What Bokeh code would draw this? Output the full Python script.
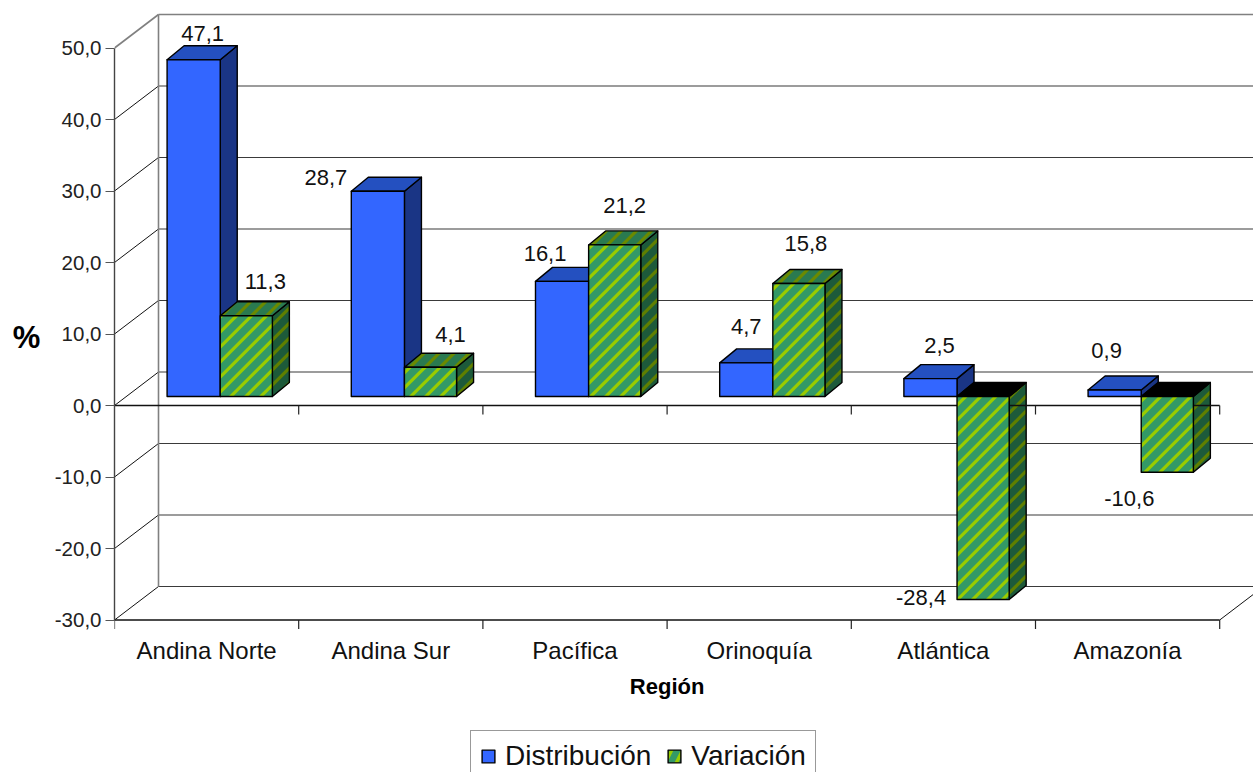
from bokeh.plotting import figure
from bokeh.models import (Range1d, LinearAxis, FixedTicker, Legend, LegendItem, Label)
from bokeh.embed import file_html
from bokeh.resources import INLINE

# ---- chart data ----
regions = ["Andina Norte", "Andina Sur", "Pacífica", "Orinoquía", "Atlántica", "Amazonía"]
distribucion = [47.1, 28.7, 16.1, 4.7, 2.5, 0.9]
variacion = [11.3, 4.1, 21.2, 15.8, -28.4, -10.6]
y_ticks = [-30, -20, -10, 0, 10, 20, 30, 40, 50]
y_tick_labels = ["-30,0", "-20,0", "-10,0", "0,0", "10,0", "20,0", "30,0", "40,0", "50,0"]

# ---- label nudges (screen px, relative to each bar's end) ----
dist_off_x = [9, -52, -17, 0, 9, -8]
dist_off_y = [-26, -14, -28, -36, -33, -40]
vari_off_x = [19, 20, 10, 7, -62, -38]
vari_off_y = [-34, -33, -39, -40, -2, 26]

# ---- scales and projection ----
PX_CAT = 184.2
PX_VAL = 7.15
FRAME_W, FRAME_H = 1139, 772
ZERO_FROM_TOP = 405
WALL_DX, WALL_DY = 44 / PX_CAT, 33.5 / PX_VAL
BAR_DX, BAR_DY = 17 / PX_CAT, 14 / PX_VAL
BASE = 9 / PX_VAL
TICK = 9 / PX_VAL
BLUE_L, BLUE_W = 0.2855, 0.2885
GREEN_L, GREEN_W = 0.574, 0.283
N = len(regions)
GRID_INK = "#3a3a3a"
WALL_INK = "#808080"
X_MAX = FRAME_W / PX_CAT
FLOOR = y_ticks[0]
STRIPE_PERIOD, STRIPE_WIDTH, STRIPE_PHASE = 15.0, 4.5, 0.0

p = figure(width=1253, height=772, output_backend="svg", toolbar_location=None,
           x_range=Range1d(0, X_MAX),
           y_range=Range1d(ZERO_FROM_TOP / PX_VAL - FRAME_H / PX_VAL, ZERO_FROM_TOP / PX_VAL),
           x_axis_location=None, y_axis_location=None,
           min_border_left=114, min_border_right=0, min_border_top=0, min_border_bottom=0)
p.outline_line_color = None
p.grid.visible = False

# ---- walls ----
grid_vals = [v for v in y_ticks if v != 50]
p.segment([WALL_DX] * len(grid_vals), [v + WALL_DY for v in grid_vals],
          [X_MAX + 1] * len(grid_vals), [v + WALL_DY for v in grid_vals],
          line_color=GRID_INK, line_width=1.2)
p.segment([0] * len(grid_vals), grid_vals,
          [WALL_DX] * len(grid_vals), [v + WALL_DY for v in grid_vals],
          line_color="#111111", line_width=1)
p.segment([WALL_DX], [50 + WALL_DY], [X_MAX + 1], [50 + WALL_DY],
          line_color=WALL_INK, line_width=1.6)
p.segment([0], [50], [WALL_DX], [50 + WALL_DY], line_color=WALL_INK, line_width=1.6)
p.segment([WALL_DX], [FLOOR + WALL_DY], [WALL_DX], [50 + WALL_DY],
          line_color=WALL_INK, line_width=1.6)
p.segment([N], [FLOOR], [N + WALL_DX], [FLOOR + WALL_DY], line_color="#111111", line_width=1)


def box(i, left, width, v):
    x0 = i + left
    x1 = x0 + width
    y0 = BASE
    y1 = BASE + v
    ytop = max(y0, y1)
    ybot = min(y0, y1)
    front = ([x0, x1, x1, x0], [ybot, ybot, ytop, ytop])
    side = ([x1, x1 + BAR_DX, x1 + BAR_DX, x1],
            [ybot, ybot + BAR_DY, ytop + BAR_DY, ytop])
    top = ([x0, x0 + BAR_DX, x1 + BAR_DX, x1],
           [ytop, ytop + BAR_DY, ytop + BAR_DY, ytop])
    return front, side, top


def clip_band(poly, lo, hi):
    """Cut a convex face to the diagonal band lo <= u <= hi, u = x_px - y_px."""
    pts = [(x * PX_CAT, y * PX_VAL) for x, y in zip(*poly)]

    def cut(points, keep):
        out = []
        for k, a in enumerate(points):
            b = points[(k + 1) % len(points)]
            da, db = keep(a), keep(b)
            if da >= 0:
                out.append(a)
            if (da >= 0) != (db >= 0):
                t = da / (da - db)
                out.append((a[0] + t * (b[0] - a[0]), a[1] + t * (b[1] - a[1])))
        return out

    pts = cut(pts, lambda q: (q[0] - q[1]) - lo)
    if pts:
        pts = cut(pts, lambda q: hi - (q[0] - q[1]))
    if len(pts) < 3:
        return None
    return [q[0] / PX_CAT for q in pts], [q[1] / PX_VAL for q in pts]


def stripes_of(polys):
    xs, ys = [], []
    for poly in polys:
        us = [x * PX_CAT - y * PX_VAL for x, y in zip(*poly)]
        k = int(min(us) // STRIPE_PERIOD) - 1
        while k * STRIPE_PERIOD + STRIPE_PHASE < max(us):
            lo = k * STRIPE_PERIOD + STRIPE_PHASE
            piece = clip_band(poly, lo, lo + STRIPE_WIDTH)
            if piece:
                xs.append(piece[0])
                ys.append(piece[1])
            k += 1
    return xs, ys


EDGE = dict(line_color="black", line_width=1.4, line_join="round")


def plain(polys, color):
    p.patches([q[0] for q in polys], [q[1] for q in polys], fill_color=color, **EDGE)


def striped(polys, base, ink):
    p.patches([q[0] for q in polys], [q[1] for q in polys], fill_color=base, line_color=None)
    xs, ys = stripes_of(polys)
    p.patches(xs, ys, fill_color=ink, line_color=None)
    p.patches([q[0] for q in polys], [q[1] for q in polys], fill_color=None, **EDGE)


blue = [box(i, BLUE_L, BLUE_W, v) for i, v in enumerate(distribucion)]
green = [box(i, GREEN_L, GREEN_W, v) for i, v in enumerate(variacion)]

plain([b[1] for b in blue], "#1A3585")
plain([b[2] for b in blue], "#2450C0")
striped([g[1] for g in green], "#1D5A3A", "#5F7F00")
striped([g[2] for g, v in zip(green, variacion) if v >= 0], "#2A7A50", "#6A8A00")
plain([g[2] for g, v in zip(green, variacion) if v < 0], "black")

# front lines with ticks: the zero line and the floor line
for level in (0, FLOOR):
    p.segment([0], [level], [N], [level], line_color="#111111", line_width=1.3)
    p.segment(list(range(0 if level else 1, N + 1)), [level] * (N + (1 if level else 0)),
              list(range(0 if level else 1, N + 1)), [level - TICK] * (N + (1 if level else 0)),
              line_color="#222222", line_width=1.2)

# front faces
blue_front = p.quad(left=[b[0][0][0] for b in blue], right=[b[0][0][1] for b in blue],
                    bottom=[b[0][1][0] for b in blue], top=[b[0][1][2] for b in blue],
                    fill_color="#3366FF", **EDGE)
striped([g[0] for g in green], "#339966", "#99CC00")

# swatch for the legend only: sits outside the visible x range
green_key = p.quad(left=[-3], right=[-2], bottom=[0], top=[1], fill_color="#339966",
                   hatch_pattern="right_diagonal_line", hatch_color="#99CC00",
                   hatch_scale=22, hatch_weight=3.4, **EDGE)

# value labels
FONT = {"value": "Liberation Sans"}
LABEL = dict(text_font_size="22px", text_font=FONT, text_color="#111111",
             text_align="center", text_baseline="middle")
p.text(x=[i + BLUE_L + BLUE_W / 2 for i in range(N)],
       y=[BASE + v for v in distribucion],
       text=[f"{v:.1f}".replace(".", ",") for v in distribucion],
       x_offset=dist_off_x, y_offset=dist_off_y, **LABEL)
p.text(x=[i + GREEN_L + GREEN_W / 2 for i in range(N)],
       y=[BASE + v for v in variacion],
       text=[f"{v:.1f}".replace(".", ",") for v in variacion],
       x_offset=vari_off_x, y_offset=vari_off_y, **LABEL)

# category labels and axis title below the floor line
p.text(x=[i + 0.5 for i in range(N)], y=[FLOOR] * N, text=regions, y_offset=[30] * N,
       text_font_size="24px", text_font=FONT, text_color="#111111",
       text_align="center", text_baseline="middle")
p.text(x=[N / 2], y=[FLOOR], text=["Región"], y_offset=[66], text_font_size="22px",
       text_font_style="bold", text_font=FONT, text_color="black",
       text_align="center", text_baseline="middle")

# ---- axis ----
yax = LinearAxis(bounds=(FLOOR, 50), ticker=FixedTicker(ticks=y_ticks),
                 major_label_overrides={t: s for t, s in zip(y_ticks, y_tick_labels)},
                 major_label_text_font="Liberation Sans", major_label_text_font_size="20.5px",
                 major_label_text_color="#222222", major_label_standoff=4,
                 major_tick_in=0, major_tick_out=9, minor_tick_line_color=None,
                 axis_line_color="#444444", axis_line_width=1.4,
                 major_tick_line_color="#555555", major_tick_line_width=1.2)
p.add_layout(yax, "left")

p.add_layout(Label(x=26, y=337, x_units="canvas", y_units="canvas", text="%",
                   text_font="Liberation Sans",
                   text_font_size="31px", text_font_style="bold", text_color="black",
                   text_align="center", text_baseline="middle"), "left")

legend = Legend(items=[LegendItem(label="Distribución", renderers=[blue_front]),
                       LegendItem(label="Variación", renderers=[green_key])],
                orientation="horizontal", location=(356, -10),
                label_text_font="Liberation Sans", label_text_font_size="28px",
                label_text_color="#111111", glyph_width=16, glyph_height=16,
                label_standoff=9, spacing=15, padding=9, margin=0,
                border_line_color="#333333", border_line_width=1.3,
                background_fill_color="white", background_fill_alpha=1)
p.add_layout(legend, "center")

open("out.html", "w").write(file_html(p, INLINE))
